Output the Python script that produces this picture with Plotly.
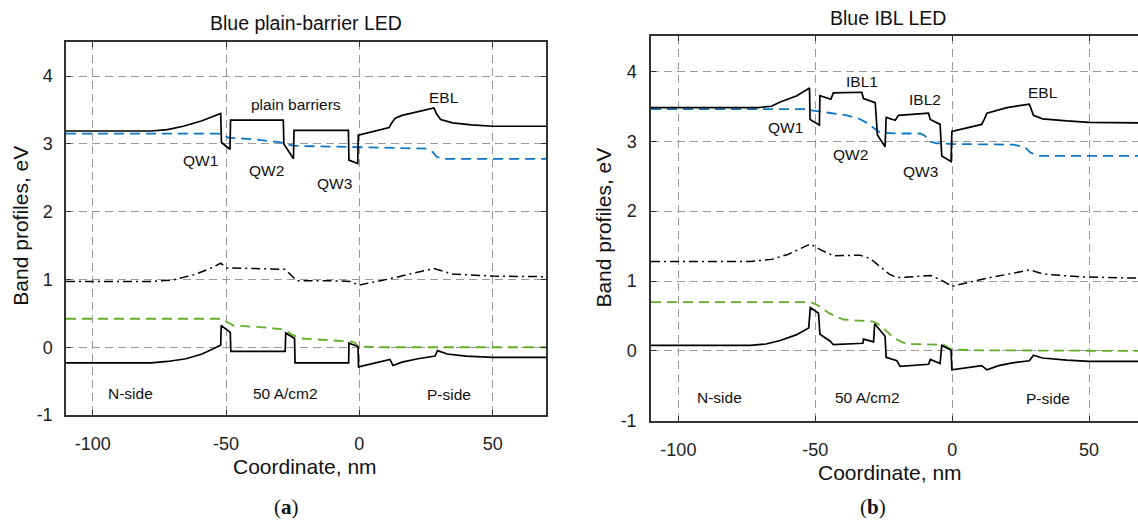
import plotly.graph_objects as go

# ---------------- data: panel (a) plain-barrier LED ----------------
a_cb_x = [-110, -78, -72, -66, -59, -52, -51.7, -48.5, -48.3, -28.5, -28.3, -24.7, -24.5, -4.1, -3.9, -0.6, -0.4,
          11.2, 12.0, 13.5, 16, 22, 28, 29.0, 30.5, 35, 42, 50, 70]
a_cb_y = [3.19, 3.19, 3.21, 3.26, 3.34, 3.45, 3.02, 2.92, 3.35, 3.35, 3.00, 2.78, 3.20, 3.20, 2.76, 2.71, 3.13,
          3.24, 3.30, 3.38, 3.42, 3.48, 3.53, 3.44, 3.36, 3.31, 3.28, 3.26, 3.26]
a_fn_x = [-110, -53, -51, -49, -40, -32, -29, -27, -24, -10, 0, 20, 25, 27.5, 29, 31.5, 70]
a_fn_y = [3.15, 3.15, 3.13, 3.09, 3.07, 3.04, 3.02, 2.99, 2.97, 2.96, 2.95, 2.94, 2.93, 2.88, 2.81, 2.78, 2.78]
a_dd_x = [-110, -78, -70, -62, -56, -52, -49.7, -40, -28, -26, -23.5, -10, -3, -0.5, 11.5, 20, 28, 35, 50, 70]
a_dd_y = [0.97, 0.97, 0.99, 1.07, 1.16, 1.24, 1.17, 1.16, 1.15, 1.08, 0.98, 0.98, 0.97, 0.915, 1.01, 1.09, 1.16,
          1.08, 1.05, 1.04]
a_fp_x = [-110, -52, -50, -47.2, -35, -28, -25.5, -22.2, -10, -2.2, -0.2, 10, 70]
a_fp_y = [0.42, 0.42, 0.38, 0.32, 0.29, 0.26, 0.19, 0.13, 0.10, 0.08, 0.01, 0.0, 0.0]
a_vb_x = [-110, -78, -72, -65, -59, -52, -51.8, -48.4, -48.2, -27.8, -27.6, -24.3, -24.1, -4.0, -3.9, -0.5, -0.3,
          11.5, 12.6, 16, 22, 28.4, 29.3, 33, 40, 50, 70]
a_vb_y = [-0.23, -0.23, -0.21, -0.17, -0.10, 0.03, 0.32, 0.22, -0.06, -0.06, 0.21, 0.13, -0.23, -0.23, 0.06, 0.01,
          -0.29, -0.18, -0.27, -0.22, -0.17, -0.13, -0.05, -0.10, -0.13, -0.15, -0.15]

# ---------------- data: panel (b) IBL LED ----------------
b_cb_x = [-110, -71, -66, -62.8, -56.7, -52.1, -51.9, -48.5, -48.3, -44.3, -43.4, -33, -32.4, -28.1, -27.3, -24.5,
          -24.1, -20.8, -19.6, -8.6, -8.0, -4.4, -3.8, -0.4, -0.1, 10.8, 11.8, 12.7, 20, 28.2, 29.7, 33, 41.9, 50, 70]
b_cb_y = [3.48, 3.48, 3.50, 3.56, 3.65, 3.76, 3.31, 3.23, 3.65, 3.60, 3.69, 3.70, 3.61, 3.55, 3.09, 2.92,
          3.34, 3.30, 3.37, 3.40, 3.31, 3.24, 2.79, 2.71, 3.14, 3.24, 3.32, 3.40, 3.48, 3.53, 3.37, 3.32, 3.29, 3.27, 3.26]
b_fn_x = [-110, -53, -51.4, -48, -43, -38.4, -34, -31, -28, -26.3, -19, -11.7, -10, -8.6, -5.6, 0, 22.4, 26, 27.3,
          28.5, 29.7, 32, 70]
b_fn_y = [3.46, 3.46, 3.44, 3.42, 3.40, 3.37, 3.32, 3.26, 3.17, 3.12, 3.11, 3.11, 3.08, 3.00, 2.97, 2.96, 2.95, 2.92,
          2.89, 2.84, 2.82, 2.79, 2.79]
b_dd_x = [-110, -73.7, -66, -60, -51.8, -48.2, -43.3, -33.6, -29.9, -26.3, -23, -21.4, -19, -8, -3.8, -0.1, 11.4,
          28.5, 33.3, 46.7, 70]
b_dd_y = [1.28, 1.28, 1.31, 1.38, 1.53, 1.45, 1.36, 1.37, 1.32, 1.20, 1.10, 1.07, 1.05, 1.08, 1.01, 0.925, 1.03,
          1.16, 1.10, 1.06, 1.04]
b_fp_x = [-110, -51.8, -49.4, -46.5, -44.5, -39.7, -28.7, -26, -23.8, -21.4, -18.5, -16.5, -3.2, -0.1, 10, 70]
b_fp_y = [0.70, 0.70, 0.66, 0.58, 0.53, 0.45, 0.42, 0.36, 0.28, 0.19, 0.13, 0.10, 0.09, 0.02, 0.01, 0.0]
b_vb_x = [-110, -73.7, -68, -62.8, -57, -52.4, -51.8, -48.8, -48.3, -44.5, -43.4, -32.6, -32.4, -28.7, -28.3, -24.5,
          -24.1, -20.2, -19.0, -8.6, -8.0, -4.4, -3.8, -0.4, -0.1, 10.8, 12.7, 17, 22, 28.2, 29.7, 33, 41.9, 50, 70]
b_vb_y = [0.08, 0.08, 0.10, 0.15, 0.23, 0.33, 0.62, 0.54, 0.24, 0.14, 0.09, 0.11, 0.17, 0.13, 0.39, 0.21,
          -0.09, -0.14, -0.22, -0.19, -0.12, -0.18, 0.08, 0.01, -0.27, -0.21, -0.27, -0.21, -0.17, -0.14, -0.06,
          -0.10, -0.13, -0.15, -0.15]

x_ticks = [-100, -50, 0, 50]
x_tick_text = ["-100", "-50", "0", "50"]
y_ticks = [-1, 0, 1, 2, 3, 4]
y_tick_text = ["-1", "0", "1", "2", "3", "4"]

a_labels = [("plain barriers", -23.9, 3.58), ("QW1", -59.5, 2.76), ("QW2", -34.7, 2.60), ("QW3", -9.4, 2.42),
            ("EBL", 31.8, 3.69), ("N-side", -85.7, -0.68), ("50 A/cm2", -27.6, -0.68), ("P-side", 33.5, -0.69)]
b_labels = [("IBL1", -33, 3.86), ("QW1", -61, 3.20), ("QW2", -37, 2.81), ("IBL2", -9.9, 3.60), ("QW3", -11.7, 2.56),
            ("EBL", 33.3, 3.70), ("N-side", -85, -0.67), ("50 A/cm2", -31, -0.67), ("P-side", 35.1, -0.68)]

BLUE = "#0a78c4"
GREEN = "#62ae2a"
FONT = "Liberation Sans, Arial, sans-serif"

fig = go.Figure()


def add_panel(xa, ya, cb, fn, dd, fp, vb):
    common = dict(xaxis=xa, yaxis=ya, mode="lines", showlegend=False, hoverinfo="skip")
    fig.add_trace(go.Scatter(x=fn[0], y=fn[1], line=dict(color=BLUE, width=1.8, dash="10px,6px"), **common))
    fig.add_trace(go.Scatter(x=fp[0], y=fp[1], line=dict(color=GREEN, width=1.8, dash="10px,6px"), **common))
    fig.add_trace(go.Scatter(x=dd[0], y=dd[1], line=dict(color="black", width=1.5, dash="9px,4px,2px,4px"), **common))
    fig.add_trace(go.Scatter(x=cb[0], y=cb[1], line=dict(color="black", width=1.7), **common))
    fig.add_trace(go.Scatter(x=vb[0], y=vb[1], line=dict(color="black", width=1.7), **common))


add_panel("x", "y", (a_cb_x, a_cb_y), (a_fn_x, a_fn_y), (a_dd_x, a_dd_y), (a_fp_x, a_fp_y), (a_vb_x, a_vb_y))
add_panel("x2", "y2", (b_cb_x, b_cb_y), (b_fn_x, b_fn_y), (b_dd_x, b_dd_y), (b_fp_x, b_fp_y), (b_vb_x, b_vb_y))

W, H = 1138, 530

axis_common = dict(showgrid=True, gridcolor="#9a9a9a", gridwidth=1, griddash="8px,5px", zeroline=False,
                   showline=True, linecolor="#333333", linewidth=1.5, ticks="inside", ticklen=5,
                   tickcolor="#333333", tickfont=dict(family=FONT, size=18, color="#222222"))

fig.update_layout(
    width=W, height=H, margin=dict(l=0, r=0, t=0, b=0),
    paper_bgcolor="white", plot_bgcolor="white",
    xaxis=dict(domain=[66 / W, 546 / W], range=[-110, 70], tickvals=x_ticks, ticktext=x_tick_text,
               mirror="ticks", anchor="y", ticklabelstandoff=12, **axis_common),
    yaxis=dict(domain=[1 - 423 / H, 1 - 43 / H], range=[-1, 4.5], tickvals=y_ticks, ticktext=y_tick_text,
               mirror="ticks", anchor="x", ticklabelstandoff=8, **axis_common),
    xaxis2=dict(domain=[651 / W, 1.0], range=[-110, (W - 952) / 2.74], tickvals=x_ticks, ticktext=x_tick_text,
                mirror="ticks", anchor="y2", ticklabelstandoff=12, **axis_common),
    yaxis2=dict(domain=[1 - 429 / H, 1 - 37 / H], range=[-1, 4.5], tickvals=y_ticks, ticktext=y_tick_text,
                mirror=False, anchor="x2", ticklabelstandoff=9, **axis_common),
)

ann = []
for t, x, y in a_labels:
    ann.append(dict(text=t, x=x, y=y, xref="x", yref="y", showarrow=False,
                    font=dict(family=FONT, size=15.5, color="#111111")))
for t, x, y in b_labels:
    ann.append(dict(text=t, x=x, y=y, xref="x2", yref="y2", showarrow=False,
                    font=dict(family=FONT, size=15.5, color="#111111")))


def paper(text, px, py, size, angle=0, family=FONT):
    return dict(text=text, x=px / W, y=1 - py / H, xref="paper", yref="paper", showarrow=False,
                textangle=angle, xanchor="center", yanchor="middle",
                font=dict(family=family, size=size, color="#111111"))


ann += [
    paper("Blue plain-barrier LED", 306, 23, 19.5),
    paper("Blue IBL LED", 888, 18, 19.5),
    paper("Band profiles, eV", 21, 230, 21, -90),
    paper("Band profiles, eV", 604, 232, 21, -90),
    paper("Coordinate, nm", 305, 475, 21),
    paper("Coordinate, nm", 890, 482, 21),
    paper("(<b>a</b>)", 286, 517, 21, family="Liberation Serif, serif"),
    paper("(<b>b</b>)", 873, 517, 21, family="Liberation Serif, serif"),
]
fig.update_layout(annotations=ann)

fig.write_html("out.html")
